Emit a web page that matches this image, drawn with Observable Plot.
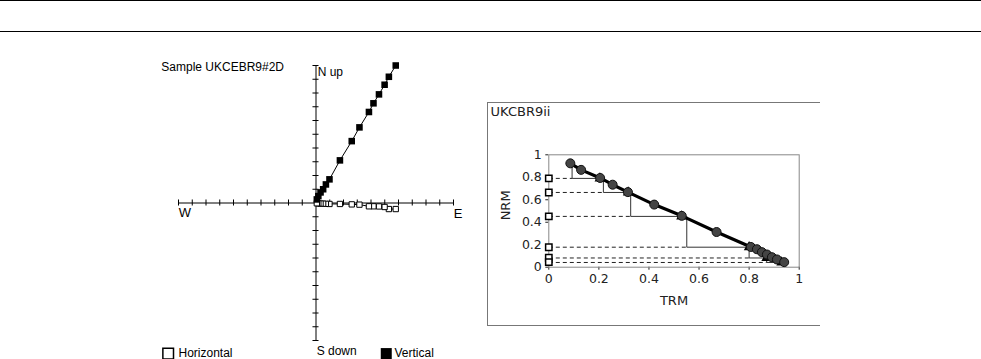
<!DOCTYPE html>
<html><head><meta charset="utf-8">
<script src="https://cdn.jsdelivr.net/npm/d3@7"></script>
<script src="https://cdn.jsdelivr.net/npm/@observablehq/plot@0.6"></script>
<style>
body{margin:0;background:#fff;}
#wrap{position:relative;width:981px;height:359px;overflow:hidden;background:#fff;}
.hr{position:absolute;left:0;width:981px;height:1px;background:#000;}
#zij,#arai{position:absolute;}
#zij{left:150px;top:50px;}
#arai{left:480px;top:95px;}
#frame{position:absolute;left:487px;top:102px;width:332px;height:222px;border-left:1px solid #777;border-top:1px solid #777;border-bottom:1px solid #777;}
</style>
</head><body>
<div id="wrap">
  <div class="hr" style="top:0"></div>
  <div class="hr" style="top:31px"></div>
  <div id="frame"></div>
  <div id="zij"></div>
  <div id="arai"></div>
</div>
<script>
// ---- Zijderveld diagram (Sample UKCEBR9#2D), in tick units ----
const zEast  = [5.8, 5.3, 4.99, 4.58, 4.18, 3.85, 3.16, 2.6, 1.74, 0.98, 0.72, 0.52, 0.33, 0.17, 0.06, 0];
const zNorth = [-0.44, -0.44, -0.29, -0.25, -0.24, -0.24, -0.12, -0.1, -0.07, -0.07, -0.06, -0.05, -0.04, -0.03, -0.02, 0];
const zUp    = [10.0, 9.18, 8.6, 7.9, 7.25, 6.62, 5.5, 4.5, 3.1, 1.72, 1.35, 1.0, 0.77, 0.5, 0.26, 0];
const zTicks = [-10,-9,-8,-7,-6,-5,-4,-3,-2,-1,1,2,3,4,5,6,7,8,9,10];

// ---- Arai plot (UKCBR9ii) ----
const trm = [0.086, 0.129, 0.205, 0.255, 0.316, 0.421, 0.531, 0.67, 0.807, 0.831, 0.851, 0.871, 0.891, 0.911, 0.94];
const nrm = [0.924, 0.866, 0.794, 0.734, 0.668, 0.557, 0.457, 0.313, 0.18, 0.16, 0.134, 0.113, 0.089, 0.069, 0.045];
// pTRM checks: corner TRM, top NRM, level NRM, end TRM
const chkX   = [0.093, 0.218, 0.327, 0.551, 0.800, 0.870];
const chkTop = [0.92, 0.79, 0.668, 0.455, 0.17, 0.09];
const chkY   = [0.79, 0.665, 0.452, 0.178, 0.082, 0.042];
const chkEnd = [0.204, 0.317, 0.53, 0.80, 0.87, 0.93];
// pTRM tail checks (squares at TRM = 0)
const tailY  = [0.79, 0.665, 0.452, 0.178, 0.084, 0.045];
const araiTicks = [0, 0.2, 0.4, 0.6, 0.8, 1];

const hPts = zEast.map((e, i) => ({e, v: zNorth[i]}));
const vPts = zEast.map((e, i) => ({e, v: zUp[i]}));
const ptsH = hPts.slice(0, -1), ptsV = vPts.slice(0, -1);

const zij = Plot.plot({
  width: 330, height: 309,
  marginLeft: 28, marginRight: 27, marginTop: 15, marginBottom: 19,
  x: {domain: [-10, 10], axis: null},
  y: {domain: [-10, 10], axis: null},
  style: {fontFamily: "'Liberation Sans', Arial, sans-serif", fontSize: "12px", background: "transparent", overflow: "visible"},
  marks: [
    Plot.ruleY([0], {x1: -10, x2: 10, stroke: "black"}),
    Plot.ruleX([0], {y1: -10, y2: 10, stroke: "black"}),
    Plot.ruleX(zTicks, {x: d => d, y1: -0.22, y2: 0.22, stroke: "black"}),
    Plot.ruleY(zTicks, {y: d => d, x1: -0.22, x2: 0.22, stroke: "black"}),
    Plot.line(hPts, {x: "e", y: "v", stroke: "black", strokeWidth: 1}),
    Plot.line(vPts, {x: "e", y: "v", stroke: "black", strokeWidth: 1}),
    Plot.dot(ptsH, {x: "e", y: "v", symbol: "square", r: 3, fill: "white", stroke: "black", strokeWidth: 1}),
    Plot.dot(ptsV, {x: "e", y: "v", symbol: "square", r: 3.7, fill: "black", stroke: "none"}),
    Plot.text(["W"], {x: -9.53, y: -0.75, text: d => d, fontSize: 13, textAnchor: "middle", fill: "black"}),
    Plot.text(["E"], {x: 10.33, y: -0.8, text: d => d, fontSize: 13, textAnchor: "middle", fill: "black"}),
    Plot.text(["N up"], {x: 0.12, y: 9.5, text: d => d, fontSize: 12, textAnchor: "start", fill: "black"}),
    Plot.text(["S down"], {x: 0.05, y: -10.75, text: d => d, fontSize: 12, textAnchor: "start", fill: "black"}),
    Plot.text(["Sample UKCEBR9#2D"], {x: -11.25, y: 9.85, text: d => d, fontSize: 12, textAnchor: "start", fill: "black"}),
    Plot.dot(["Horizontal"], {x: -10.75, y: -10.95, symbol: "square", r: 6, fill: "white", stroke: "black"}),
    Plot.text(["Horizontal"], {x: -10.0, y: -10.92, text: d => d, fontSize: 12, textAnchor: "start", fill: "black"}),
    Plot.dot(["Vertical"], {x: 5.11, y: -10.95, symbol: "square", r: 6.2, fill: "black"}),
    Plot.text(["Vertical"], {x: 5.71, y: -10.92, text: d => d, fontSize: 12, textAnchor: "start", fill: "black"})
  ]
});
document.getElementById("zij").appendChild(zij);

const circles = trm.map((t, i) => ({t, n: nrm[i]}));
const checks = chkX.map((x, i) => ({x, top: chkTop[i], y: chkY[i], end: chkEnd[i]}));
const tails = tailY.map(y => ({t: 0, y}));

const arai = Plot.plot({
  width: 345, height: 235,
  marginLeft: 68.3, marginRight: 26.3, marginTop: 59.3, marginBottom: 63.3,
  x: {domain: [0, 1], ticks: 5, tickSize: 3, tickPadding: 4, label: null, tickFormat: d => String(d)},
  y: {domain: [0, 1], ticks: 5, tickSize: 3, tickPadding: 4, label: null, tickFormat: d => String(d)},
  style: {fontFamily: "'DejaVu Sans', sans-serif", fontSize: "12.5px", color: "#222", background: "transparent", overflow: "visible"},
  marks: [
    Plot.frame({stroke: "#888"}),
    Plot.link(checks, {x1: 0, x2: "x", y1: "y", y2: "y", stroke: "#222", strokeWidth: 1, strokeDasharray: "4,3"}),
    Plot.link(checks, {x1: "x", x2: "x", y1: "top", y2: "y", stroke: "#333", strokeWidth: 1}),
    Plot.link(checks, {x1: "x", x2: "end", y1: "y", y2: "y", stroke: "#333", strokeWidth: 1}),
    Plot.line(circles, {x: "t", y: "n", stroke: "black", strokeWidth: 3.2}),
    Plot.dot(checks, {x: "end", y: "y", symbol: "triangle", r: 3, fill: "#111", stroke: "black"}),
    Plot.dot(circles, {x: "t", y: "n", r: 4.5, fill: "#444", stroke: "#111", strokeWidth: 1}),
    Plot.dot(tails, {x: "t", y: "y", symbol: "square", r: 3.6, fill: "white", stroke: "black", strokeWidth: 1.5}),
    Plot.text(["UKCBR9ii"], {x: -0.2325, y: 1.378, text: d => d, fontSize: 13, textAnchor: "start", fill: "#222"}),
    Plot.text(["TRM"], {x: 0.5, y: -0.297, text: d => d, fontSize: 13, textAnchor: "middle", fill: "#222"}),
    Plot.text(["NRM"], {x: -0.173, y: 0.55, text: d => d, fontSize: 13, rotate: -90, textAnchor: "middle", fill: "#222"})
  ]
});
document.getElementById("arai").appendChild(arai);
</script>
</body></html>
